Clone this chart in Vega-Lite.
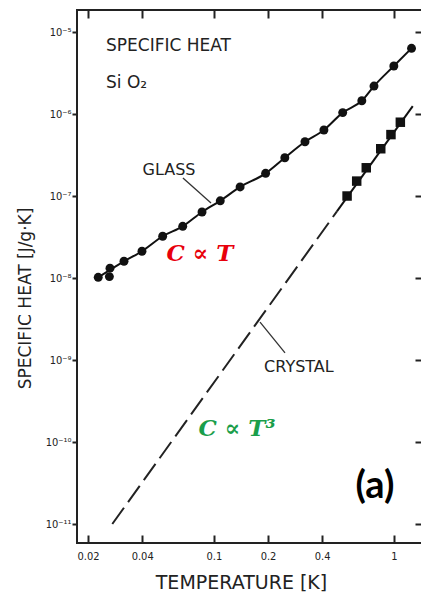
{
  "$schema": "https://vega.github.io/schema/vega-lite/v6.json",
  "width": 345,
  "height": 533,
  "autosize": {"type": "none"},
  "padding": {"left": 77, "top": 10, "right": 0, "bottom": 55},
  "background": "white",
  "config": {
    "view": {"stroke": "#222", "strokeWidth": 2},
    "text": {"font": "DejaVu Sans", "color": "#222"}
  },
  "resolve": {"axis": {"x": "independent", "y": "independent"}},
  "layer": [
    {
      "layer": [
        {
          "data": {"values": [
            {"T": 0.0228, "C": 1.02e-8}, {"T": 0.0317, "C": 1.6e-8}, {"T": 0.0399, "C": 2.12e-8},
            {"T": 0.052, "C": 3.23e-8}, {"T": 0.0672, "C": 4.27e-8}, {"T": 0.086, "C": 6.38e-8},
            {"T": 0.1086, "C": 8.74e-8}, {"T": 0.14, "C": 1.29e-7}, {"T": 0.194, "C": 1.89e-7},
            {"T": 0.248, "C": 2.93e-7}, {"T": 0.321, "C": 4.59e-7}, {"T": 0.409, "C": 6.38e-7},
            {"T": 0.52, "C": 1.04e-6}, {"T": 0.664, "C": 1.45e-6}, {"T": 0.776, "C": 2.19e-6},
            {"T": 1.0, "C": 3.85e-6}, {"T": 1.254, "C": 6.33e-6}
          ]},
          "mark": {"type": "line", "color": "#111", "strokeWidth": 2, "interpolate": "monotone"},
          "encoding": {
            "x": {"field": "T", "type": "quantitative",
              "scale": {"type": "log", "domain": [0.01738, 1.434], "nice": false},
              "axis": {"orient": "bottom", "offset": -8, "values": [0.02, 0.04, 0.1, 0.2, 0.4, 1],
                "labelExpr": "'' + datum.value", "tickSize": 8, "labelPadding": 7,
                "tickColor": "#222", "tickWidth": 2, "tickOpacity": 1, "domain": false, "grid": false, "zindex": 2,
                "labelFont": "DejaVu Sans Condensed", "labelFontSize": 11, "labelColor": "#222",
                "labelFlush": false, "labelOverlap": false, "labelBaseline": "top",
                "title": "TEMPERATURE  [K]", "titleFont": "DejaVu Sans", "titleFontSize": 19,
                "titleFontWeight": "normal", "titleColor": "#222", "titleX": 164, "titleY": 47,
                "titleAlign": "center", "titleBaseline": "middle"}},
            "y": {"field": "C", "type": "quantitative",
              "scale": {"type": "log", "domain": [5.87e-12, 1.855e-5], "nice": false},
              "axis": {"orient": "left", "offset": 0, "values": [1e-11, 1e-10, 1e-9, 1e-8, 1e-7, 1e-6, 1e-5],
                "labelExpr": "datum.value > 5e-6 ? '10⁻⁵' : datum.value > 5e-7 ? '10⁻⁶' : datum.value > 5e-8 ? '10⁻⁷' : datum.value > 5e-9 ? '10⁻⁸' : datum.value > 5e-10 ? '10⁻⁹' : datum.value > 5e-11 ? '10⁻¹⁰' : '10⁻¹¹'",
                "tickSize": 5, "labelPadding": 1, "tickColor": "#222", "tickWidth": 2, "tickOpacity": 1, "zindex": 2,
                "domain": false, "grid": false, "labelFont": "DejaVu Sans Condensed", "labelFontSize": 11,
                "labelColor": "#222", "labelFlush": false, "labelOverlap": false, "labelBaseline": "middle",
                "title": "SPECIFIC HEAT  [J/g·K]", "titleFont": "DejaVu Sans", "titleFontSize": 17,
                "titleFontWeight": "normal", "titleColor": "#222", "titleX": -52, "titleY": 288,
                "titleAngle": -90, "titleAlign": "center", "titleBaseline": "middle"}}
          }
        },
        {
          "data": {"values": [
            {"T": 0.0228, "C": 1.02e-8}, {"T": 0.0263, "C": 1.04e-8}, {"T": 0.0265, "C": 1.32e-8},
            {"T": 0.0317, "C": 1.6e-8}, {"T": 0.0399, "C": 2.12e-8}, {"T": 0.052, "C": 3.23e-8},
            {"T": 0.0672, "C": 4.27e-8}, {"T": 0.086, "C": 6.38e-8}, {"T": 0.1086, "C": 8.74e-8},
            {"T": 0.14, "C": 1.29e-7}, {"T": 0.194, "C": 1.89e-7}, {"T": 0.248, "C": 2.93e-7},
            {"T": 0.321, "C": 4.59e-7}, {"T": 0.409, "C": 6.38e-7}, {"T": 0.52, "C": 1.04e-6},
            {"T": 0.664, "C": 1.45e-6}, {"T": 0.776, "C": 2.19e-6}, {"T": 1.0, "C": 3.85e-6},
            {"T": 1.254, "C": 6.33e-6}
          ]},
          "mark": {"type": "point", "shape": "circle", "filled": true, "size": 80, "color": "#111", "opacity": 1},
          "encoding": {
            "x": {"field": "T", "type": "quantitative", "scale": {"type": "log", "domain": [0.01738, 1.434], "nice": false}},
            "y": {"field": "C", "type": "quantitative", "scale": {"type": "log", "domain": [5.87e-12, 1.855e-5], "nice": false}}
          }
        },
        {
          "data": {"values": [{"T": 0.0273, "C": 1e-11}, {"T": 0.483, "C": 6.5e-8}]},
          "mark": {"type": "line", "color": "#222", "strokeWidth": 2, "strokeDash": [20, 7]},
          "encoding": {
            "x": {"field": "T", "type": "quantitative", "scale": {"type": "log", "domain": [0.01738, 1.434], "nice": false}},
            "y": {"field": "C", "type": "quantitative", "scale": {"type": "log", "domain": [5.87e-12, 1.855e-5], "nice": false}}
          }
        },
        {
          "data": {"values": [{"T": 0.483, "C": 6.5e-8}, {"T": 1.274, "C": 1.25e-6}]},
          "mark": {"type": "line", "color": "#111", "strokeWidth": 2},
          "encoding": {
            "x": {"field": "T", "type": "quantitative", "scale": {"type": "log", "domain": [0.01738, 1.434], "nice": false}},
            "y": {"field": "C", "type": "quantitative", "scale": {"type": "log", "domain": [5.87e-12, 1.855e-5], "nice": false}}
          }
        },
        {
          "data": {"values": [
            {"T": 0.55, "C": 1.0e-7}, {"T": 0.622, "C": 1.52e-7}, {"T": 0.703, "C": 2.21e-7},
            {"T": 0.846, "C": 3.77e-7}, {"T": 0.964, "C": 5.61e-7}, {"T": 1.087, "C": 7.94e-7}
          ]},
          "mark": {"type": "point", "shape": "square", "filled": true, "size": 90, "color": "#111", "opacity": 1},
          "encoding": {
            "x": {"field": "T", "type": "quantitative", "scale": {"type": "log", "domain": [0.01738, 1.434], "nice": false}},
            "y": {"field": "C", "type": "quantitative", "scale": {"type": "log", "domain": [5.87e-12, 1.855e-5], "nice": false}}
          }
        },
        {
          "data": {"values": [
            {"T": 0.0674, "C": 1.66e-7, "T2": 0.0965, "C2": 8.22e-8},
            {"T": 0.1806, "C": 2.9e-9, "T2": 0.2486, "C2": 1.22e-9}
          ]},
          "mark": {"type": "rule", "color": "#333", "strokeWidth": 1.3},
          "encoding": {
            "x": {"field": "T", "type": "quantitative", "scale": {"type": "log", "domain": [0.01738, 1.434], "nice": false}},
            "y": {"field": "C", "type": "quantitative", "scale": {"type": "log", "domain": [5.87e-12, 1.855e-5], "nice": false}},
            "x2": {"field": "T2"},
            "y2": {"field": "C2"}
          }
        },
        {
          "data": {"values": [
            {"label": "SPECIFIC HEAT", "T": 0.02518, "C": 6.8e-6},
            {"label": "Si O₂", "T": 0.02518, "C": 2.42e-6}
          ]},
          "mark": {"type": "text", "align": "left", "baseline": "middle", "fontSize": 17, "font": "DejaVu Sans", "color": "#222"},
          "encoding": {
            "x": {"field": "T", "type": "quantitative", "scale": {"type": "log", "domain": [0.01738, 1.434], "nice": false}},
            "y": {"field": "C", "type": "quantitative", "scale": {"type": "log", "domain": [5.87e-12, 1.855e-5], "nice": false}},
            "text": {"field": "label"}
          }
        },
        {
          "data": {"values": [
            {"label": "GLASS", "T": 0.0564, "C": 2.07e-7},
            {"label": "CRYSTAL", "T": 0.297, "C": 8.2e-10}
          ]},
          "mark": {"type": "text", "align": "center", "baseline": "middle", "fontSize": 16, "font": "DejaVu Sans", "color": "#222"},
          "encoding": {
            "x": {"field": "T", "type": "quantitative", "scale": {"type": "log", "domain": [0.01738, 1.434], "nice": false}},
            "y": {"field": "C", "type": "quantitative", "scale": {"type": "log", "domain": [5.87e-12, 1.855e-5], "nice": false}},
            "text": {"field": "label"}
          }
        },
        {
          "data": {"values": [{"label": "C ∝ T", "T": 0.0838, "C": 1.96e-8}]},
          "mark": {"type": "text", "align": "center", "baseline": "middle", "fontSize": 23, "font": "DejaVu Serif", "fontWeight": "bold", "fontStyle": "italic", "color": "#e8000b"},
          "encoding": {
            "x": {"field": "T", "type": "quantitative", "scale": {"type": "log", "domain": [0.01738, 1.434], "nice": false}},
            "y": {"field": "C", "type": "quantitative", "scale": {"type": "log", "domain": [5.87e-12, 1.855e-5], "nice": false}},
            "text": {"field": "label"}
          }
        },
        {
          "data": {"values": [{"label": "C ∝ T³", "T": 0.1346, "C": 1.44e-10}]},
          "mark": {"type": "text", "align": "center", "baseline": "middle", "fontSize": 23, "font": "DejaVu Serif", "fontWeight": "bold", "fontStyle": "italic", "color": "#1a9e4a"},
          "encoding": {
            "x": {"field": "T", "type": "quantitative", "scale": {"type": "log", "domain": [0.01738, 1.434], "nice": false}},
            "y": {"field": "C", "type": "quantitative", "scale": {"type": "log", "domain": [5.87e-12, 1.855e-5], "nice": false}},
            "text": {"field": "label"}
          }
        },
        {
          "data": {"values": [{"label": "(a)", "T": 0.786, "C": 2.83e-11}]},
          "mark": {"type": "text", "align": "center", "baseline": "middle", "fontSize": 38, "font": "Lato", "fontWeight": "bold", "color": "#000"},
          "encoding": {
            "x": {"field": "T", "type": "quantitative", "scale": {"type": "log", "domain": [0.01738, 1.434], "nice": false}},
            "y": {"field": "C", "type": "quantitative", "scale": {"type": "log", "domain": [5.87e-12, 1.855e-5], "nice": false}},
            "text": {"field": "label"}
          }
        }
      ]
    },
    {
      "data": {"values": [{"T": 0.1, "C": 1e-8}]},
      "mark": {"type": "point", "opacity": 0},
      "encoding": {
        "x": {"field": "T", "type": "quantitative",
          "scale": {"type": "log", "domain": [0.01738, 1.434], "nice": false},
          "axis": {"orient": "top", "offset": -8, "values": [0.02, 0.04, 0.1, 0.2, 0.4, 1], "labels": false, "title": null,
            "tickSize": 8, "tickColor": "#222", "tickWidth": 2, "tickOpacity": 1, "domain": false, "grid": false, "zindex": 2}},
        "y": {"field": "C", "type": "quantitative",
          "scale": {"type": "log", "domain": [5.87e-12, 1.855e-5], "nice": false},
          "axis": {"orient": "right", "offset": -7, "values": [1e-11, 1e-10, 1e-9, 1e-8, 1e-7, 1e-6, 1e-5], "labels": false, "title": null,
            "tickSize": 7, "tickColor": "#222", "tickWidth": 2, "tickOpacity": 1, "domain": false, "grid": false, "zindex": 2}}
      }
    }
  ]
}
